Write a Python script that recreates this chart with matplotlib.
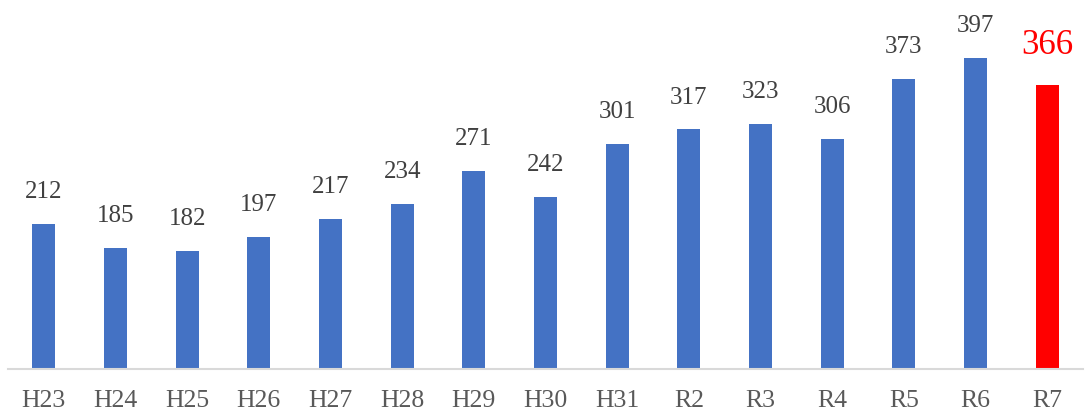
import matplotlib
matplotlib.use('Agg')
import matplotlib.pyplot as plt

# values
years = ['H23', 'H24', 'H25', 'H26', 'H27', 'H28', 'H29', 'H30', 'H31',
         'R2', 'R3', 'R4', 'R5', 'R6', 'R7']
counts = [212, 185, 182, 197, 217, 234, 271, 242, 301,
          317, 323, 306, 373, 397, 366]

plt.rcParams['font.family'] = ['Liberation Serif', 'DejaVu Serif']

fig = plt.figure(figsize=(10.89, 4.15), dpi=100)
ax = fig.add_axes([8/1089, 46/415, 1075/1089, 359/415])

colors = ['#4472C4'] * (len(years) - 1) + ['#FF0000']
x = range(len(years))
bars = ax.bar(x, counts, width=0.32, color=colors)

for i, (b, v) in enumerate(zip(bars, counts)):
    if i == len(counts) - 1:
        ax.annotate(str(v), (b.get_x() + b.get_width() / 2, v),
                    xytext=(0, 17), textcoords='offset points',
                    ha='center', va='bottom', fontsize=25, color='#FF0000')
    else:
        ax.annotate(str(v), (b.get_x() + b.get_width() / 2, v),
                    xytext=(0, 15), textcoords='offset points',
                    ha='center', va='bottom', fontsize=18, color='#404040')

ax.set_xlim(-0.5, len(years) - 0.5)
ax.set_ylim(50, 450)
ax.set_xticks(list(x))
ax.set_xticklabels(years, fontsize=18.5, color='#595959')
ax.tick_params(axis='x', length=0, pad=15)
ax.set_yticks([])
for s in ['top', 'right', 'left']:
    ax.spines[s].set_visible(False)
ax.spines['bottom'].set_color('#D9D9D9')
ax.spines['bottom'].set_linewidth(1.5)

fig.savefig('out.png', dpi=100)
